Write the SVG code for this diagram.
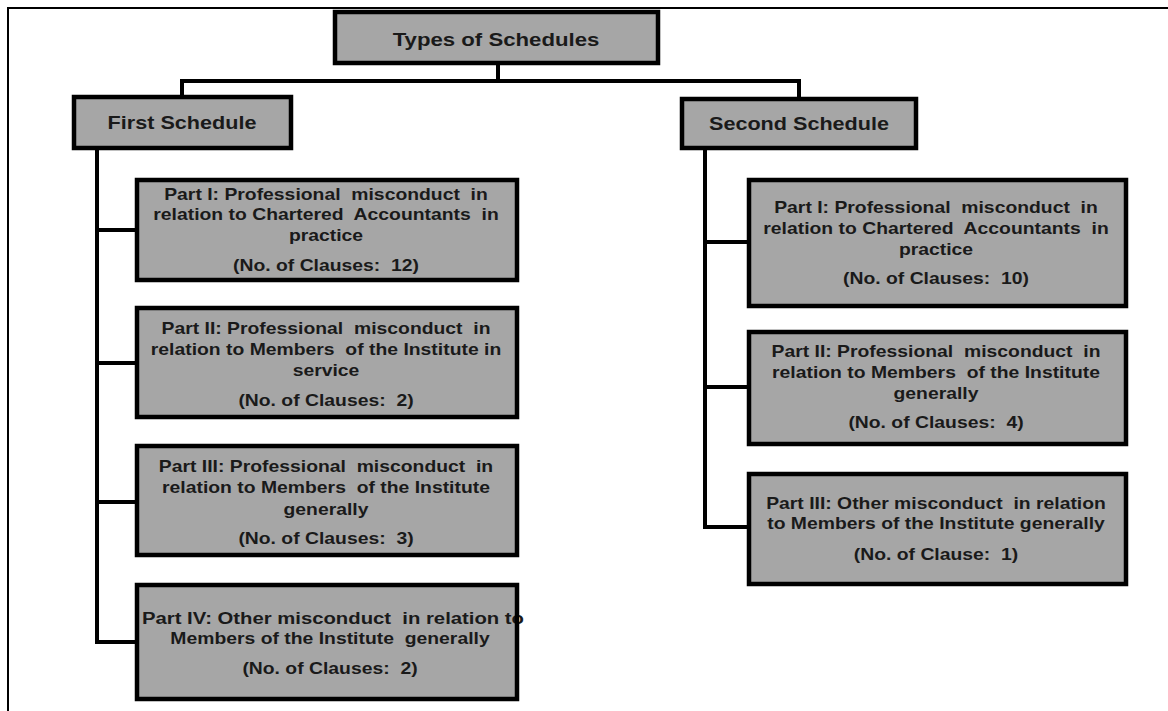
<svg xmlns="http://www.w3.org/2000/svg" width="1168" height="711" viewBox="0 0 1168 711">
  <style>
    .box { fill: #a6a6a6; }
    .edge { fill: none; stroke: #000; stroke-width: 4.5; }
    .wire { fill: none; stroke: #000; stroke-width: 4; stroke-linejoin: miter; stroke-linecap: square; }
    .frame { fill: none; stroke: #000; stroke-width: 2; }
    text { font-family: "Liberation Sans", Arial, sans-serif; font-weight: bold; fill: #1a1a1a; white-space: pre; }
    .t { font-size: 16px; text-anchor: middle; }
    .h { font-size: 18px; text-anchor: middle; }
    .r { font-size: 18.5px; text-anchor: middle; }
  </style>

  <!-- page frame -->
  <path class="frame" d="M8 711 V8 H1168"/>

  <!-- connectors -->
  <g id="connectors">
    <path class="wire" d="M498 65 V81 M182 95 V81 H799 V97"/>
    <path class="wire" d="M97 150 V642 H135 M97 230 H135 M97 363 H135 M97 502 H135"/>
    <path class="wire" d="M705 150 V527 H747 M705 242 H747 M705 387 H747"/>
  </g>

  <!-- root -->
  <g id="types-of-schedules">
    <rect class="box" x="335" y="12" width="323" height="51"/>
    <g transform="translate(496 0) scale(1.2 1)"><text class="r" x="0" y="46">Types of Schedules</text></g>
    <rect class="edge" x="335" y="12" width="323" height="51"/>
  </g>

  <!-- schedules -->
  <g id="first-schedule">
    <rect class="box" x="74" y="97" width="217" height="51"/>
    <g transform="translate(182 0) scale(1.2 1)"><text class="h" x="0" y="129">First Schedule</text></g>
    <rect class="edge" x="74" y="97" width="217" height="51"/>
  </g>
  <g id="second-schedule">
    <rect class="box" x="682" y="99" width="234" height="49"/>
    <g transform="translate(799 0) scale(1.2 1)"><text class="h" x="0" y="130">Second Schedule</text></g>
    <rect class="edge" x="682" y="99" width="234" height="49"/>
  </g>

  <!-- first schedule parts -->
  <g id="first-part-1">
    <rect class="box" x="137" y="180" width="380" height="100"/>
    <g transform="translate(326 0) scale(1.21 1)">
      <text class="t" x="0" y="200">Part I: Professional  misconduct  in</text>
      <text class="t" x="0" y="220">relation to Chartered  Accountants  in</text>
      <text class="t" x="0" y="241">practice</text>
      <text class="t" x="0" y="271">(No. of Clauses:  12)</text>
    </g>
    <rect class="edge" x="137" y="180" width="380" height="100"/>
  </g>
  <g id="first-part-2">
    <rect class="box" x="137" y="308" width="380" height="109"/>
    <g transform="translate(326 0) scale(1.21 1)">
      <text class="t" x="0" y="334">Part II: Professional  misconduct  in</text>
      <text class="t" x="0" y="355">relation to Members  of the Institute in</text>
      <text class="t" x="0" y="376">service</text>
      <text class="t" x="0" y="406">(No. of Clauses:  2)</text>
    </g>
    <rect class="edge" x="137" y="308" width="380" height="109"/>
  </g>
  <g id="first-part-3">
    <rect class="box" x="137" y="446" width="380" height="109"/>
    <g transform="translate(326 0) scale(1.21 1)">
      <text class="t" x="0" y="472">Part III: Professional  misconduct  in</text>
      <text class="t" x="0" y="493">relation to Members  of the Institute</text>
      <text class="t" x="0" y="515">generally</text>
      <text class="t" x="0" y="544">(No. of Clauses:  3)</text>
    </g>
    <rect class="edge" x="137" y="446" width="380" height="109"/>
  </g>
  <g id="first-part-4">
    <rect class="box" x="137" y="585" width="380" height="114"/>
    <text style="font-size:16px" x="142" y="624" textLength="382" lengthAdjust="spacingAndGlyphs">Part IV: Other misconduct  in relation to</text>
    <g transform="translate(330 0) scale(1.21 1)">
      <text class="t" x="0" y="644">Members of the Institute  generally</text>
      <text class="t" x="0" y="674">(No. of Clauses:  2)</text>
    </g>
    <rect class="edge" x="137" y="585" width="380" height="114"/>
  </g>

  <!-- second schedule parts -->
  <g id="second-part-1">
    <rect class="box" x="749" y="180" width="377" height="126"/>
    <g transform="translate(936 0) scale(1.21 1)">
      <text class="t" x="0" y="213">Part I: Professional  misconduct  in</text>
      <text class="t" x="0" y="234">relation to Chartered  Accountants  in</text>
      <text class="t" x="0" y="255">practice</text>
      <text class="t" x="0" y="284">(No. of Clauses:  10)</text>
    </g>
    <rect class="edge" x="749" y="180" width="377" height="126"/>
  </g>
  <g id="second-part-2">
    <rect class="box" x="749" y="332" width="377" height="112"/>
    <g transform="translate(936 0) scale(1.21 1)">
      <text class="t" x="0" y="357">Part II: Professional  misconduct  in</text>
      <text class="t" x="0" y="378">relation to Members  of the Institute</text>
      <text class="t" x="0" y="399">generally</text>
      <text class="t" x="0" y="428">(No. of Clauses:  4)</text>
    </g>
    <rect class="edge" x="749" y="332" width="377" height="112"/>
  </g>
  <g id="second-part-3">
    <rect class="box" x="749" y="474" width="377" height="110"/>
    <g transform="translate(936 0) scale(1.21 1)">
      <text class="t" x="0" y="509">Part III: Other misconduct  in relation</text>
      <text class="t" x="0" y="529">to Members of the Institute generally</text>
      <text class="t" x="0" y="560">(No. of Clause:  1)</text>
    </g>
    <rect class="edge" x="749" y="474" width="377" height="110"/>
  </g>
</svg>
